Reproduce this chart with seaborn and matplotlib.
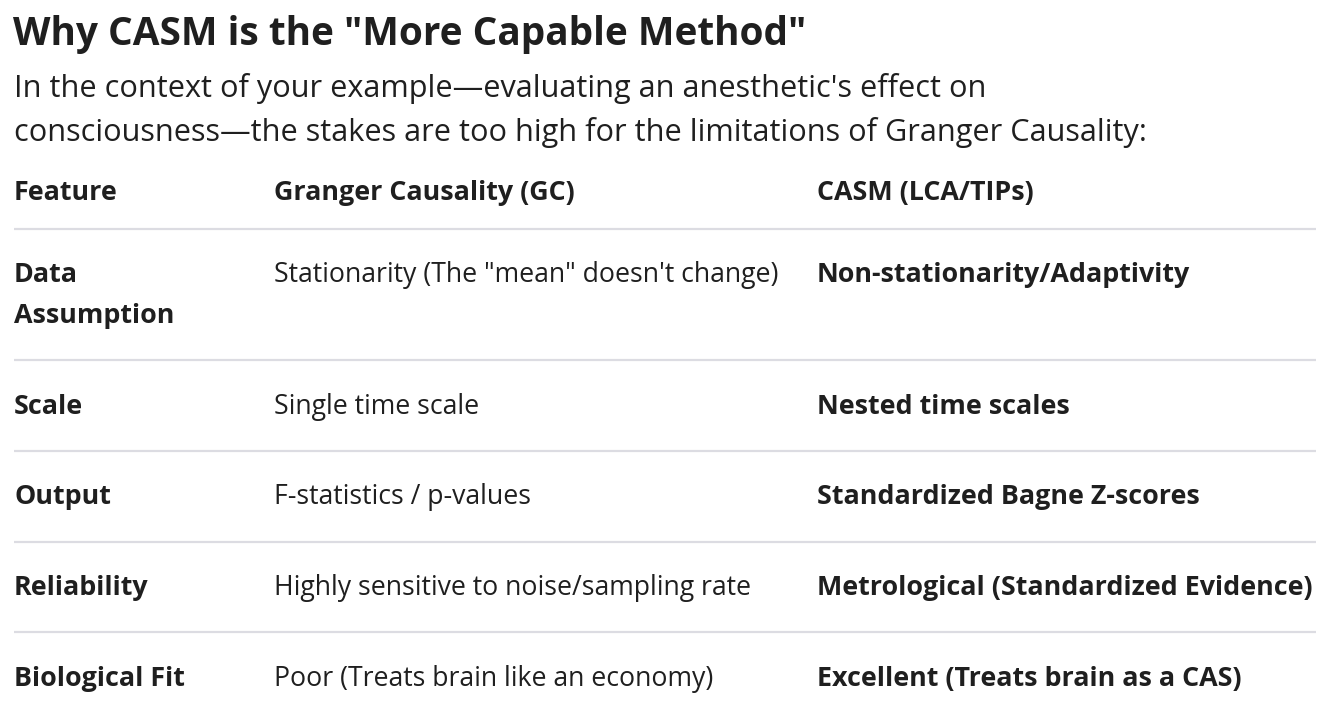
import matplotlib
matplotlib.use("Agg")
import matplotlib.pyplot as plt
import seaborn as sns

title = 'Why CASM is the "More Capable Method"'
subtitle_lines = [
    "In the context of your example\u2014evaluating an anesthetic's effect on",
    "consciousness\u2014the stakes are too high for the limitations of Granger Causality:",
]
headers = ["Feature", "Granger Causality (GC)", "CASM (LCA/TIPs)"]
features = ["Data\nAssumption", "Scale", "Output", "Reliability", "Biological Fit"]
gc_values = [
    'Stationarity (The "mean" doesn\'t change)',
    "Single time scale",
    "F-statistics / p-values",
    "Highly sensitive to noise/sampling rate",
    "Poor (Treats brain like an economy)",
]
casm_values = [
    "Non-stationarity/Adaptivity",
    "Nested time scales",
    "Standardized Bagne Z-scores",
    "Metrological (Standardized Evidence)",
    "Excellent (Treats brain as a CAS)",
]

sns.set_theme(style="white")
FONT = ["Open Sans", "DejaVu Sans"]
plt.rcParams["font.family"] = FONT

W, H = 1344, 724
fig = plt.figure(figsize=(W / 100, H / 100), dpi=100)
ax = fig.add_axes([0, 0, 1, 1])
ax.set_xlim(0, W)
ax.set_ylim(H, 0)
ax.axis("off")

TXT = "#1f1f1f"
LINE = "#dcdce2"
col_x = [14, 274, 817]
FS_BOLD = 19.4
FS_REG = 19.2

ax.text(13, 35, title, fontsize=27.9, fontweight="bold", color=TXT, va="center", ha="left")
for i, s in enumerate(subtitle_lines):
    ax.text(14, 88 + i * 45, s, fontsize=22.1, color=TXT, va="center", ha="left")

header_y = 193
for x, h in zip(col_x, headers):
    ax.text(x, header_y, h, fontsize=FS_BOLD, fontweight="bold", color=TXT, va="center", ha="left")

sep_y = [229, 360, 451, 542, 632]
row_y = [275, 407, 497, 588, 679]
for y in sep_y:
    ax.plot([14, 1316], [y, y], color=LINE, lw=1.6, solid_capstyle="butt")

for y, f, g, c in zip(row_y, features, gc_values, casm_values):
    for k, part in enumerate(f.split("\n")):
        ax.text(col_x[0], y + k * 41, part, fontsize=FS_BOLD, fontweight="bold", color=TXT,
                va="center", ha="left")
    ax.text(col_x[1], y, g, fontsize=FS_REG, color=TXT, va="center", ha="left")
    ax.text(col_x[2], y, c, fontsize=FS_BOLD, fontweight="bold", color=TXT, va="center", ha="left")

fig.savefig("out.png", dpi=100, facecolor="white")
